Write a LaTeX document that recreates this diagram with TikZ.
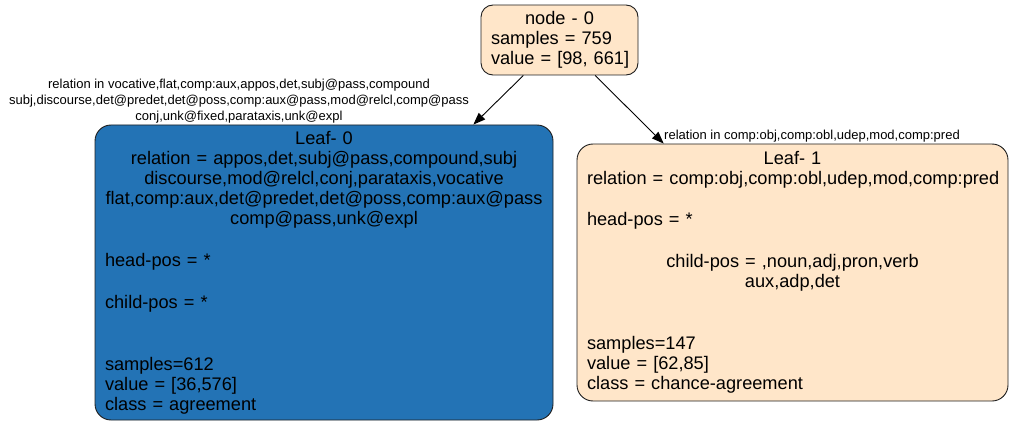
\documentclass[tikz,border=0pt]{standalone}
\usepackage{fontspec}
\setmainfont{Liberation Sans}
\usetikzlibrary{arrows.meta}
\setlength{\parskip}{0pt}
\definecolor{splitbisque}{HTML}{FFE6C9}
\definecolor{agreeblue}{HTML}{2373B5}
\definecolor{borderdark}{HTML}{1F1F1F}
\tikzset{
  treenode/.style={
    rectangle, rounded corners=12pt, draw=borderdark, line width=0.9pt,
    inner xsep=10pt, inner ysep=0pt,
    font=\fontsize{18.2}{20}\selectfont, text=black
  },
  leafnode/.style={treenode, rounded corners=16pt},
  edgelabel/.style={font=\fontsize{13}{16}\selectfont, align=center, inner sep=0pt},
  arrow/.style={-{Triangle[length=12pt,width=9pt]}, line width=0.9pt, draw=black}
}

\begin{document}
\begin{tikzpicture}[x=1pt,y=-1pt]
\useasboundingbox (0,0) rectangle (1015,425);
\node[treenode, fill=splitbisque, minimum width=157pt, minimum height=70pt, text width=137pt] (root) at (559.5,40)
  {\centering node - 0\par\raggedright samples~=~759\\ value~=~[98,~661]\par};
\node[leafnode, fill=agreeblue, minimum width=458pt, minimum height=295pt, text width=438pt] (leaf0) at (324,272.5)
  {\centering Leaf- 0\\ relation = appos,det,subj@pass,compound,subj\\ discourse,mod@relcl,conj,parataxis,vocative\\ flat,comp:aux,det@predet,det@poss,comp:aux@pass\\ comp@pass,unk@expl\par
   \vspace{22pt}\raggedright head-pos = *\\[22pt] child-pos = *\\[42pt] samples=612\\ value = [36,576]\\ class = agreement\par};
\node[leafnode, fill=splitbisque, minimum width=431pt, minimum height=257pt, text width=411pt] (leaf1) at (792.5,272.5)
  {\centering Leaf- 1\\ relation~=~comp:obj,comp:obl,udep,mod,comp:pred\par
   \vspace{21pt}\raggedright head-pos = *\par
   \vspace{22pt}\centering child-pos = ,noun,adj,pron,verb\\ aux,adp,det\par
   \vspace{42pt}\raggedright samples=147\\ value = [62,85]\\ class = chance-agreement\par};
% split labels
\node[edgelabel] (lbl0) at (239,101) {relation in vocative,flat,comp:aux,appos,det,subj@pass,compound\\ subj,discourse,det@predet,det@poss,comp:aux@pass,mod@relcl,comp@pass\\ conj,unk@fixed,parataxis,unk@expl};
\node[edgelabel] (lbl1) at (812,136) {relation in comp:obj,comp:obl,udep,mod,comp:pred};
\draw[arrow] (root) -- (leaf0);
\draw[arrow] (root) -- (leaf1);
\end{tikzpicture}
\end{document}
